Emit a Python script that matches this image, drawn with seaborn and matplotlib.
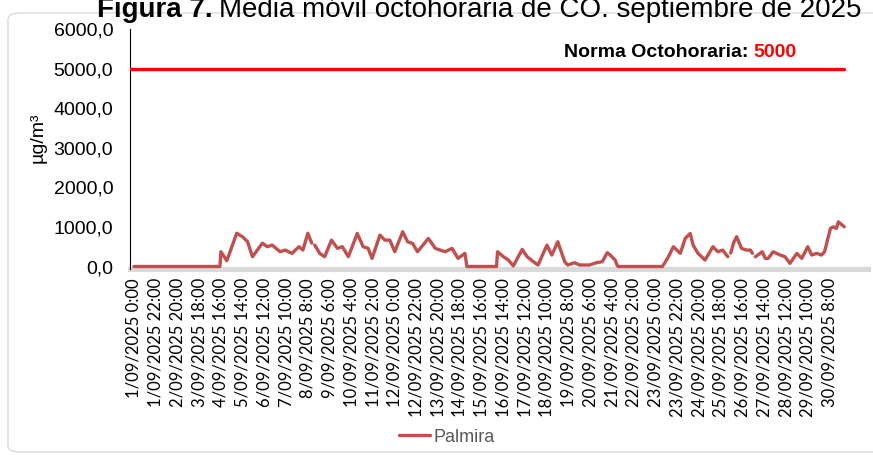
import matplotlib
matplotlib.use("Agg")
import matplotlib.pyplot as plt
import seaborn as sns
import numpy as np
import pandas as pd
from matplotlib.patches import FancyBboxPatch
from matplotlib.lines import Line2D

nan = np.nan

# horas desde 1/09/2025 0:00 y media movil octohoraria de CO (ug/m3)
horas = [0, 87, 88, 94, 104, 110, 115, 120, 130, 135, 140, 148, 153, 160, 167, 171,
         176, 180, 182, 183, 188, 193, 200, 206, 211, 217, 226, 232, 237, 241, 249,
         254, 259, 264, 272, 277, 282, 287, 298, 305, 310, 315, 322, 328, 335, 337,
         367, 368, 374, 379, 384, 393, 398, 403, 409, 418, 423, 429, 436, 439, 446,
         451, 461, 468, 474, 479, 482, 487, 489, 490, 535, 541, 546, 553, 558, 563,
         566, 571, 578, 583, 586, 591, 596, 601, 602, 604, 607, 610, 615, 620, 624,
         626, 627, 629, 636, 639, 642, 647, 654, 659, 664, 671, 676, 682, 686, 691,
         696, 699, 705, 708, 711, 713, 717, 719]
palmira = [0, 0, 373, 146, 840, 750, 625, 247, 590, 500, 540, 373, 415, 332, 500, 415,
           840, 590, nan, 540, 332, 247, 667, 459, 500, 247, 836, 500, 459, 206, 793,
           667, 667, 373, 877, 625, 584, 373, 710, 459, 415, 373, 459, 206, 332, 0,
           0, 373, 247, 164, 15, 433, 247, 146, 38, 540, 290, 625, 121, 38, 96,
           38, 38, 96, 121, 348, 290, 164, 38, 0, 0, 247, 500, 332, 710, 836,
           540, 332, 164, 373, 500, 373, 415, 247, nan, 340, 600, 752, 459, 415, 415,
           332, nan, 247, 373, 206, 206, 373, 290, 247, 80, 332, 206, 500, 290, 332,
           290, 373, 962, 1003, 962, 1129, 1045, 1003]
norma = 5000

etiquetas_x = ["1/09/2025 0:00", "1/09/2025 22:00", "2/09/2025 20:00", "3/09/2025 18:00",
               "4/09/2025 16:00", "5/09/2025 14:00", "6/09/2025 12:00", "7/09/2025 10:00",
               "8/09/2025 8:00", "9/09/2025 6:00", "10/09/2025 4:00", "11/09/2025 2:00",
               "12/09/2025 0:00", "12/09/2025 22:00", "13/09/2025 20:00", "14/09/2025 18:00",
               "15/09/2025 16:00", "16/09/2025 14:00", "17/09/2025 12:00", "18/09/2025 10:00",
               "19/09/2025 8:00", "20/09/2025 6:00", "21/09/2025 4:00", "22/09/2025 2:00",
               "23/09/2025 0:00", "23/09/2025 22:00", "24/09/2025 20:00", "25/09/2025 18:00",
               "26/09/2025 16:00", "27/09/2025 14:00", "28/09/2025 12:00", "29/09/2025 10:00",
               "30/09/2025 8:00"]
valores_y = [0, 1000, 2000, 3000, 4000, 5000, 6000]

sns.set_theme(style="white")
plt.rcParams['font.family'] = ['Liberation Sans', 'DejaVu Sans']

W, H = 873, 455
fig = plt.figure(figsize=(W / 100, H / 100), dpi=100)

# marco redondeado del grafico
fig.patches.append(FancyBboxPatch((8 / W, 3 / H), 900 / W, 439 / H,
                                  boxstyle="round,pad=0,rounding_size=0.014",
                                  transform=fig.transFigure, facecolor="none",
                                  edgecolor="#d9d9d9", linewidth=1.0, zorder=-1))

ax = fig.add_axes([130 / W, (H - 269) / H, (868 - 130) / W, 240 / H])
ax.set_facecolor("none")

df = pd.DataFrame({"hora": horas, "valor": palmira})
df["tramo"] = df["valor"].isna().cumsum()
df = df.dropna()

rojo = "#C0504D"
ax.plot([-4, 719], [norma, norma], color="#FF0000", linewidth=2.4, zorder=3)
sns.lineplot(data=df, x="hora", y="valor", units="tramo", estimator=None, sort=False,
             color=rojo, linewidth=2.4, ax=ax, legend=False, zorder=4)

ax.set_xlim(-4, 743)
ax.set_ylim(-63, 6000)
ax.set_xticks(np.arange(len(etiquetas_x)) * 22)
ax.set_xticklabels(etiquetas_x, rotation=90, fontsize=12, family=['Lato', 'DejaVu Sans'])
ax.set_yticks(valores_y)
ax.set_yticklabels([f"{v:.1f}".replace(".", ",") for v in valores_y], fontsize=14)
ax.tick_params(axis="x", length=0, pad=6.5, colors="black")
ax.tick_params(axis="y", length=0, pad=12, colors="black")
ax.set_xlabel("")
ax.set_ylabel("")

for s in ["top", "right"]:
    ax.spines[s].set_visible(False)
ax.spines["left"].set_color("black")
ax.spines["left"].set_linewidth(0.8)
ax.spines["bottom"].set_color("#d9d9d9")
ax.spines["bottom"].set_linewidth(3.7)
ax.spines["bottom"].set_zorder(2)

fig.text(38 / W, (H - 138) / H, "µg/m³", rotation=90, fontsize=14,
         ha="center", va="center", color="black")

# anotacion de la norma
fig.text(748 / W, (H - 57) / H, "Norma Octohoraria:", fontsize=14, fontweight="bold",
         ha="right", va="baseline", color="black")
fig.text(753 / W, (H - 57) / H, "5000", fontsize=14, fontweight="bold",
         ha="left", va="baseline", color="#FF0000")

# titulo (cortado en el borde superior)
renderer = fig.canvas.get_renderer()
t1 = fig.text(97 / W, (H - 17) / H, "Figura 7.", fontsize=20, fontweight="bold",
              ha="left", va="baseline", color="black")
ext = t1.get_window_extent(renderer=renderer)
fig.text((ext.x1 + 6) / W, (H - 17) / H, "Media móvil octohoraria de CO. septiembre de 2025",
         fontsize=20, ha="left", va="baseline", color="black")

fig.legend(handles=[Line2D([], [], color=rojo, linewidth=2.4)], labels=["Palmira"],
           loc="center", bbox_to_anchor=(447 / W, (H - 437) / H), frameon=False,
           fontsize=13, handlelength=1.7, handletextpad=0.2, labelcolor="#595959")

fig.savefig("out.png", dpi=100)
